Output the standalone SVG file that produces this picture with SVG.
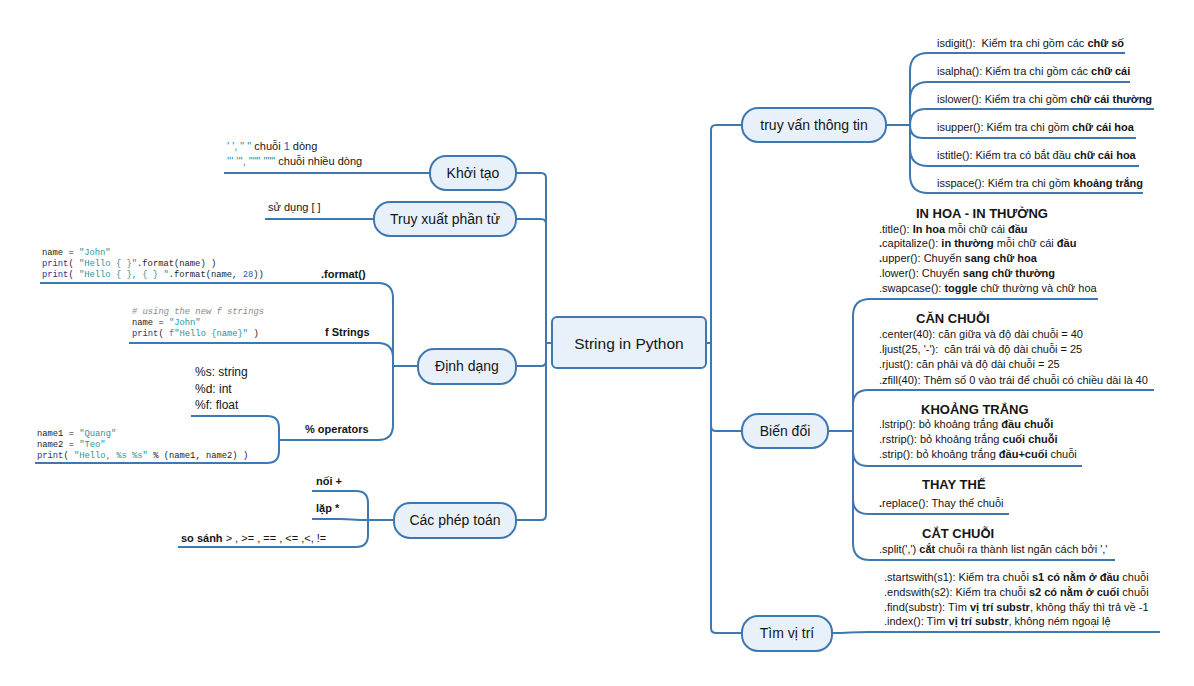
<svg xmlns="http://www.w3.org/2000/svg" width="1194" height="686" viewBox="0 0 1194 686">
<style>
text{font-family:"Liberation Sans","Noto Sans",Arial,sans-serif;fill:#151515;white-space:pre}
.t{font-size:11px}
.h{font-size:13px;font-weight:bold}
.lb{font-size:11px;font-weight:bold}
.b{font-weight:bold}
.n{font-size:14px;text-anchor:middle}
.c{font-family:"Liberation Mono","DejaVu Sans Mono",monospace;font-size:8.8px;fill:#222}
.s{fill:#2a9393}
.k{fill:#2e3192}
.num{fill:#2458c8}
.cm{fill:#8a8a8a;font-style:italic}
.q{fill:#2a9393}
.node{fill:#e8f1fa;stroke:#3e78b0;stroke-width:2}
.ln{fill:none;stroke:#3e78b0;stroke-width:2}
</style>
<rect width="1194" height="686" fill="#ffffff"/>
<g id="connectors">
<!-- main trunks -->
<path class="ln" d="M552 343H546V178Q546 173 541 173H516"/>
<path class="ln" d="M552 343H546V224Q546 219 541 219H516"/>
<path class="ln" d="M552 343H546V361Q546 366 541 366H516"/>
<path class="ln" d="M552 343H546V515Q546 520 541 520H516"/>
<path class="ln" d="M706 343H711V130Q711 125 716 125H742"/>
<path class="ln" d="M706 343H711V426Q711 431 716 431H742"/>
<path class="ln" d="M706 343H711V628Q711 633 716 633H742"/>
<!-- truy van children -->
<path class="ln" d="M886 125H910V71Q910 53 928 53H1125"/>
<path class="ln" d="M886 125H910V100Q910 82 928 82H1130"/>
<path class="ln" d="M886 125H910V125Q910 109 926 109H1154"/>
<path class="ln" d="M886 125H910V125Q910 138 923 138H1136"/>
<path class="ln" d="M886 125H910V148Q910 166 928 166H1139"/>
<path class="ln" d="M886 125H910V175Q910 193 928 193H1143"/>
<!-- bien doi children -->
<path class="ln" d="M828 431H853V316Q853 299 870 299H1098"/>
<path class="ln" d="M828 431H853V405Q853 390 868 390H1154"/>
<path class="ln" d="M828 431H853V451Q853 466 868 466H1082"/>
<path class="ln" d="M828 431H853V499Q853 514 868 514H1009"/>
<path class="ln" d="M828 431H853V543Q853 560 870 560H1115"/>
<!-- tim vi tri -->
<path class="ln" d="M832 633C850 633 850 632 868 632H1160"/>
<!-- left children -->
<path class="ln" d="M430 173H224"/>
<path class="ln" d="M374 219H265"/>
<path class="ln" d="M418 366H393V298Q393 283 378 283H40"/>
<path class="ln" d="M418 366H393V358Q393 343 378 343H129"/>
<path class="ln" d="M418 366H393V425Q393 440 378 440H279"/>
<path class="ln" d="M279 440V428Q279 416 267 416H191"/>
<path class="ln" d="M279 440V451Q279 463 267 463H35"/>
<path class="ln" d="M394 520H368V503Q368 491 356 491H312"/>
<path class="ln" d="M394 520H368C352 520 352 519 340 519H312"/>
<path class="ln" d="M394 520H368V535Q368 547 356 547H178"/>
</g>

<g id="center">
<rect class="node" x="552" y="317" width="154" height="51" rx="5"/>
<text x="629" y="349" style="font-size:15.5px;text-anchor:middle">String in Python</text>
</g>

<g id="khoi-tao">
<rect class="node" x="430" y="156" width="86" height="34" rx="16"/>
<text class="n" x="473" y="178">Khởi tạo</text>
</g>
<g id="khoi-tao-detail">
<text class="t" x="227" y="150"><tspan class="q">' ', " "</tspan> chuỗi <tspan class="num">1</tspan> dòng</text>
<text class="t" x="227" y="165"><tspan class="q">''' ''', """ """</tspan> chuỗi nhiều dòng</text>
</g>

<g id="truy-xuat">
<rect class="node" x="374" y="202" width="142" height="34" rx="16"/>
<text class="n" x="445" y="224">Truy xuất phần tử</text>
</g>
<g id="truy-xuat-detail">
<text class="t" x="268" y="211">sử dụng [ ]</text>
</g>

<g id="dinh-dang">
<rect class="node" x="418" y="349" width="98" height="35" rx="16"/>
<text class="n" x="467" y="371">Định dạng</text>
</g>
<g id="format">
<text class="lb" x="321" y="278">.format()</text>
<text class="c" x="42" y="255">name = <tspan class="s">"John"</tspan></text>
<text class="c" x="42" y="266"><tspan class="k">print</tspan>( <tspan class="s">"Hello { }"</tspan>.format(name) )</text>
<text class="c" x="42" y="277"><tspan class="k">print</tspan>( <tspan class="s">"Hello { }, { } "</tspan>.format(name, <tspan class="num">28</tspan>))</text>
</g>
<g id="fstrings">
<text class="lb" x="325" y="336">f Strings</text>
<text class="c cm" x="132" y="314"># using the new f strings</text>
<text class="c" x="132" y="325">name = <tspan class="s">"John"</tspan></text>
<text class="c" x="132" y="336"><tspan class="k">print</tspan>( <tspan class="s">f"Hello {name}"</tspan> )</text>
</g>
<g id="percent">
<text class="lb" x="305" y="433">% operators</text>
<text x="195" y="376" style="font-size:12px">%s: string</text>
<text x="195" y="393" style="font-size:12px">%d: int</text>
<text x="195" y="409" style="font-size:12px">%f: float</text>
<text class="c" x="37" y="436">name1 = <tspan class="s">"Quang"</tspan></text>
<text class="c" x="37" y="447">name2 = <tspan class="s">"Teo"</tspan></text>
<text class="c" x="37" y="458"><tspan class="k">print</tspan>( <tspan class="s">"Hello, %s %s"</tspan> % (name1, name2) )</text>
</g>

<g id="phep-toan">
<rect class="node" x="394" y="503" width="122" height="35" rx="16"/>
<text class="n" x="455" y="525">Các phép toán</text>
</g>
<g id="phep-toan-detail">
<text class="lb" x="316" y="485">nối +</text>
<text class="lb" x="316" y="512">lặp *</text>
<text class="t" x="181" y="542"><tspan class="b">so sánh</tspan> &gt; , &gt;= , == , &lt;= ,&lt;, !=</text>
</g>

<g id="truy-van">
<rect class="node" x="742" y="108" width="144" height="34" rx="16"/>
<text class="n" x="814" y="130">truy vấn thông tin</text>
</g>
<g id="truy-van-detail">
<text class="t" x="937" y="47">isdigit():  Kiểm tra chi gồm các <tspan class="b">chữ số</tspan></text>
<text class="t" x="937" y="75">isalpha(): Kiểm tra chi gồm các <tspan class="b">chữ cái</tspan></text>
<text class="t" x="937" y="103">islower(): Kiểm tra chi gồm <tspan class="b">chữ cái thường</tspan></text>
<text class="t" x="937" y="131">isupper(): Kiểm tra chi gồm <tspan class="b">chữ cái hoa</tspan></text>
<text class="t" x="937" y="159">istitle(): Kiểm tra có bắt đầu <tspan class="b">chữ cái hoa</tspan></text>
<text class="t" x="937" y="187">isspace(): Kiểm tra chi gồm <tspan class="b">khoảng trắng</tspan></text>
</g>

<g id="bien-doi">
<rect class="node" x="742" y="414" width="86" height="34" rx="16"/>
<text class="n" x="785" y="436">Biến đổi</text>
</g>
<g id="in-hoa">
<text class="h" x="916" y="218">IN HOA - IN THƯỜNG</text>
<text class="t" x="879" y="233">.title(): <tspan class="b">In hoa</tspan> mỗi chữ cái <tspan class="b">đầu</tspan></text>
<text class="t" x="879" y="247"><tspan class="b">.</tspan>capitalize(): <tspan class="b">in thường</tspan> mỗi chữ cái <tspan class="b">đầu</tspan></text>
<text class="t" x="879" y="262"><tspan class="b">.</tspan>upper(): Chuyển <tspan class="b">sang chữ hoa</tspan></text>
<text class="t" x="879" y="277">.lower(): Chuyển <tspan class="b">sang chữ thường</tspan></text>
<text class="t" x="879" y="292">.swapcase(): <tspan class="b">toggle</tspan> chữ thường và chữ hoa</text>
</g>
<g id="can-chuoi">
<text class="h" x="916" y="323">CĂN CHUỖI</text>
<text class="t" x="879" y="338">.center(40): căn giữa và độ dài chuỗi = 40</text>
<text class="t" x="879" y="353">.ljust(25, '-'):  căn trái và độ dài chuỗi = 25</text>
<text class="t" x="879" y="368">.rjust(): căn phải và độ dài chuỗi = 25</text>
<text class="t" x="879" y="384">.zfill(40): Thêm số 0 vào trái để chuỗi có chiều dài là 40</text>
</g>
<g id="khoang-trang">
<text class="h" x="921" y="414">KHOẢNG TRẮNG</text>
<text class="t" x="879" y="428">.lstrip(): bỏ khoảng trắng <tspan class="b">đầu chuỗi</tspan></text>
<text class="t" x="879" y="443">.rstrip(): bỏ khoảng trắng <tspan class="b">cuối chuỗi</tspan></text>
<text class="t" x="879" y="458">.strip(): bỏ khoảng trắng <tspan class="b">đầu+cuối</tspan> chuỗi</text>
</g>
<g id="thay-the">
<text class="h" x="922" y="489">THAY THẾ</text>
<text class="t" x="879" y="507"><tspan class="b">.</tspan>replace(): Thay thế chuỗi</text>
</g>
<g id="cat-chuoi">
<text class="h" x="922" y="538">CẮT CHUỖI</text>
<text class="t" x="879" y="553">.split(',') <tspan class="b">cắt</tspan> chuỗi ra thành list ngăn cách bởi ','</text>
</g>

<g id="tim-vi-tri">
<rect class="node" x="742" y="616" width="90" height="35" rx="16"/>
<text class="n" x="787" y="638">Tìm vị trí</text>
</g>
<g id="tim-vi-tri-detail">
<text class="t" x="884" y="581">.startswith(s1): Kiểm tra chuỗi <tspan class="b">s1 có nằm ở đầu</tspan> chuỗi</text>
<text class="t" x="884" y="596">.endswith(s2): Kiểm tra chuỗi <tspan class="b">s2 có nằm ở cuối</tspan> chuỗi</text>
<text class="t" x="884" y="611">.find(substr): Tìm <tspan class="b">vị trí substr</tspan>, không thấy thì trả về -1</text>
<text class="t" x="884" y="625">.index(): Tìm <tspan class="b">vị trí substr</tspan>, không ném ngoại lệ</text>
</g>
</svg>
